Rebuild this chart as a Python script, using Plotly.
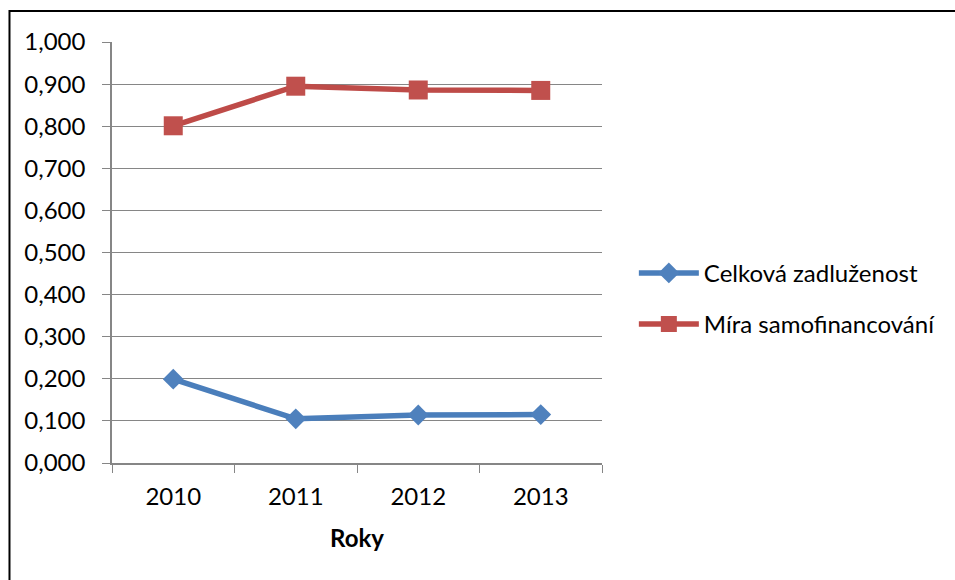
import plotly.graph_objects as go

# Data
roky = ["2010", "2011", "2012", "2013"]
celkova_zadluzenost = [0.199, 0.105, 0.114, 0.115]
mira_samofinancovani = [0.801, 0.895, 0.886, 0.885]
y_ticks = [0.0, 0.1, 0.2, 0.3, 0.4, 0.5, 0.6, 0.7, 0.8, 0.9, 1.0]

FONT = "Lato, 'Liberation Sans', Arial, sans-serif"
GRID = "#868686"

fig = go.Figure()

fig.add_trace(go.Scatter(
    x=roky, y=celkova_zadluzenost, name="Celková zadluženost",
    mode="lines+markers", legendgroup="a",
    line=dict(color="#4A7EBB", width=5.5),
    marker=dict(symbol="diamond", size=16, color="#4F81BD",
                line=dict(width=0)),
))
fig.add_trace(go.Scatter(
    x=roky, y=mira_samofinancovani, name="Míra samofinancování",
    mode="lines+markers", legendgroup="b",
    line=dict(color="#BE4B48", width=5.5),
    marker=dict(symbol="square", size=19, color="#C0504D",
                line=dict(width=0)),
))

fig.update_layout(
    width=955, height=580,
    margin=dict(l=112, r=353, t=42, b=117),
    paper_bgcolor="white", plot_bgcolor="white",
    separators=", ",
    font=dict(family=FONT, size=24, color="black"),
    showlegend=True,
    legend=dict(
        x=1.065, xanchor="left", y=0.39, yanchor="middle",
        traceorder="grouped", tracegroupgap=17,
        itemwidth=60, font=dict(size=24),
        bgcolor="rgba(0,0,0,0)",
    ),
    xaxis=dict(
        type="category", tickson="boundaries",
        showgrid=False, ticks="outside", ticklen=8, tickcolor=GRID,
        showline=True, linecolor=GRID, linewidth=1.5,
        tickfont=dict(size=24), ticklabelstandoff=11,
        title=dict(text="<b>Roky</b>", font=dict(size=24), standoff=22),
        range=[-0.5, 3.5], fixedrange=True,
    ),
    yaxis=dict(
        range=[0, 1], tickvals=y_ticks, tickformat=".3f",
        showgrid=True, gridcolor=GRID, gridwidth=1,
        ticks="outside", ticklen=8, tickcolor=GRID,
        showline=True, linecolor=GRID, linewidth=1.5,
        zeroline=False, tickfont=dict(size=24), ticklabelstandoff=12,
    ),
    shapes=[dict(
        type="rect", xref="paper", yref="paper",
        x0=-0.2092, x1=2.0, y0=-0.5, y1=1.0736,
        line=dict(color="black", width=2), fillcolor="rgba(0,0,0,0)",
        layer="above",
    )],
)

fig.write_html("out.html")
